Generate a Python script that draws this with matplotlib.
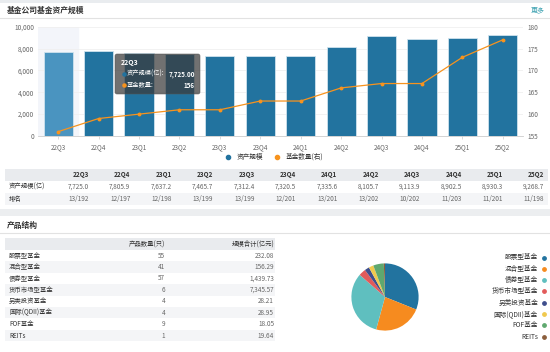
import numpy as np
import matplotlib
matplotlib.use('Agg')
import matplotlib.pyplot as plt
from matplotlib.patches import Rectangle, FancyBboxPatch
from matplotlib.lines import Line2D
from matplotlib.ticker import FuncFormatter

plt.rcParams['font.family'] = ['Noto Sans CJK SC', 'DejaVu Sans']

# 数据
quarters = ['22Q3', '22Q4', '23Q1', '23Q2', '23Q3', '23Q4',
            '24Q1', '24Q2', '24Q3', '24Q4', '25Q1', '25Q2']
asset_scale = [7725.0, 7805.9, 7637.2, 7465.7, 7312.4, 7320.5,
               7335.6, 8105.7, 9113.9, 8902.5, 8930.3, 9268.7]
fund_count = [156, 159, 160, 161, 161, 163, 163, 166, 167, 167, 173, 177]
rank_labels = ['13/192', '12/197', '12/198', '13/199', '13/199', '12/201',
               '13/201', '13/202', '10/202', '11/203', '11/201', '11/198']

product_types = ['股票型基金', '混合型基金', '债券型基金', '货币市场型基金',
                 '另类投资基金', '国际(QDII)基金', 'FOF基金', 'REITs']
product_counts = [55, 41, 57, 6, 4, 4, 9, 1]
product_sizes = [232.08, 156.29, 1439.73, 7345.57, 28.21, 28.95, 18.05, 19.64]

blue = '#22739f'
orange = '#f7931e'
pie_colors = ['#22739f', '#f68b1f', '#5fbfbf', '#e25a5a',
              '#3f4e8c', '#f0c94e', '#5fa86f', '#8b5e3c']
txt = '#333333'
grey_txt = '#666666'

fig = plt.figure(figsize=(5.5, 3.52), dpi=100)

# 背景层（像素坐标）
bg = fig.add_axes([0, 0, 1, 1])
bg.set_xlim(0, 550)
bg.set_ylim(352, 0)
bg.axis('off')
bg.set_zorder(0)

bg.add_patch(Rectangle((0, 0), 550, 3, color='#e9ecef', lw=0))
bg.plot([0, 550], [18, 18], color='#e2e2e2', lw=0.8)
bg.text(7, 10.5, '基金公司基金资产规模', fontsize=5.6, fontweight='bold', color=txt, va='center')
bg.text(545, 10.5, '更多', fontsize=5, color='#3aa0b0', va='center', ha='right')

# 表格1
bg.add_patch(Rectangle((5, 169), 543, 12, color='#e9ebee', lw=0))
bg.add_patch(Rectangle((5, 193), 543, 12, color='#f4f5f7', lw=0))
bg.text(9, 187, '资产规模(亿)', fontsize=4.6, color=txt, va='center')
bg.text(9, 198.5, '排名', fontsize=4.6, color=txt, va='center')
for i, q in enumerate(quarters):
    xr = 89 + i * 41.4
    bg.text(xr, 175, q, fontsize=4.6, color=txt, fontweight='bold', va='center', ha='right')
    bg.text(xr, 187, f'{asset_scale[i]:,.1f}', fontsize=4.6, color=grey_txt, va='center', ha='right')
    bg.text(xr, 198.5, rank_labels[i], fontsize=4.6, color=grey_txt, va='center', ha='right')

# 分隔
bg.add_patch(Rectangle((0, 209), 550, 7, color='#eceef0', lw=0))
bg.text(7, 225, '产品结构', fontsize=5.6, fontweight='bold', color=txt, va='center')
bg.plot([0, 550], [232.5, 232.5], color='#e2e2e2', lw=0.8)

# 表格2
bg.add_patch(Rectangle((5, 238), 270, 12, color='#e9ebee', lw=0))
bg.text(165, 244.5, '产品数量(只)', fontsize=4.6, color=txt, va='center', ha='right')
bg.text(274, 244.5, '规模合计(亿元)', fontsize=4.6, color=txt, va='center', ha='right')
for i, name in enumerate(product_types):
    y0 = 250 + i * 11.4
    if i % 2 == 1:
        bg.add_patch(Rectangle((5, y0), 270, 11.4, color='#f4f5f7', lw=0))
    yc = y0 + 5.7
    bg.text(9, yc, name, fontsize=4.6, color=txt, va='center')
    bg.text(165, yc, str(product_counts[i]), fontsize=4.6, color=grey_txt, va='center', ha='right')
    bg.text(274, yc, f'{product_sizes[i]:,.2f}', fontsize=4.6, color=grey_txt, va='center', ha='right')

# 柱状图 + 折线
ax = fig.add_axes([38 / 550, 1 - 136 / 352, 485 / 550, (136 - 26.7) / 352])
ax.set_zorder(1)
ax.patch.set_alpha(0)
x = np.arange(len(quarters))
ax.axvspan(-0.5, 0.5, color='#f3f5fa', zorder=0)
bar_colors = ['#4a94c0'] + [blue] * (len(quarters) - 1)
ax.bar(x, asset_scale, width=0.72, color=bar_colors, edgecolor='#cfe3ee', linewidth=0.6, zorder=2)
ax.set_xlim(-0.5, len(quarters) - 0.5)
ax.set_ylim(0, 10000)
ax.set_yticks(np.arange(0, 10001, 2000))
ax.yaxis.set_major_formatter(FuncFormatter(lambda v, p: f'{int(v):,}'))
ax.set_xticks(x)
ax.set_xticklabels(quarters)
ax.grid(axis='y', color='#f0f0f0', lw=0.6, zorder=0)
for s in ['top', 'right', 'left']:
    ax.spines[s].set_visible(False)
ax.spines['bottom'].set_color('#cccccc')
ax.spines['bottom'].set_linewidth(0.6)
ax.tick_params(axis='y', length=0, labelsize=4.6, labelcolor=grey_txt, pad=3)
ax.tick_params(axis='x', length=2, width=0.5, color='#cccccc', labelsize=4.6, labelcolor=grey_txt, pad=3)

ax2 = ax.twinx()
ax2.plot(x, fund_count, color=orange, lw=0.9, marker='o', markersize=1.8, zorder=3)
ax2.set_ylim(155, 180)
ax2.set_yticks(np.arange(155, 181, 5))
for s in ['top', 'right', 'left', 'bottom']:
    ax2.spines[s].set_visible(False)
ax2.tick_params(axis='y', length=0, labelsize=4.6, labelcolor=grey_txt, pad=3)

# 提示框
over = fig.add_axes([0, 0, 1, 1])
over.set_xlim(0, 550)
over.set_ylim(352, 0)
over.axis('off')
over.set_zorder(5)
over.add_patch(FancyBboxPatch((115, 54), 85, 40, boxstyle='round,pad=0,rounding_size=2',
                              facecolor='#3a3a3a', alpha=0.72, edgecolor='#555555', lw=0.5))
over.text(121, 63, quarters[0], fontsize=5, color='white', fontweight='bold', va='center')
over.scatter([123.5], [74], s=5, color=blue)
over.text(127, 74, '资产规模(亿):', fontsize=4.5, color='white', va='center')
over.text(195, 74, f'{asset_scale[0]:,.2f}', fontsize=4.5, color='white', fontweight='bold', va='center', ha='right')
over.scatter([123.5], [85], s=5, color=orange)
over.text(127, 85, '基金数量:', fontsize=4.5, color='white', va='center')
over.text(195, 85, str(fund_count[0]), fontsize=4.5, color='white', fontweight='bold', va='center', ha='right')

# 图例
handles = [Line2D([], [], marker='o', ls='', color=blue, markersize=3),
           Line2D([], [], marker='o', ls='', color=orange, markersize=3)]
fig.legend(handles, ['资产规模', '基金数量(右)'], loc='center', bbox_to_anchor=(0.495, 1 - 157 / 352),
           ncol=2, frameon=False, fontsize=4.8, handletextpad=0.2, columnspacing=1.2,
           labelcolor=txt)

# 饼图
pax = fig.add_axes([(385 - 42) / 550, 1 - (297 + 42) / 352, 84 / 550, 84 / 352])
pax.pie(product_counts, colors=pie_colors, startangle=90, counterclock=False,
        wedgeprops=dict(linewidth=0))
pax.set_aspect('equal')

# 饼图图例
for i, name in enumerate(product_types):
    yc = 257.5 + i * 11.3
    bg.text(538, yc, name, fontsize=4.8, color=txt, va='center', ha='right')
    bg.scatter([543.5], [yc], s=6, color=pie_colors[i])

fig.savefig('out.png', dpi=100)
